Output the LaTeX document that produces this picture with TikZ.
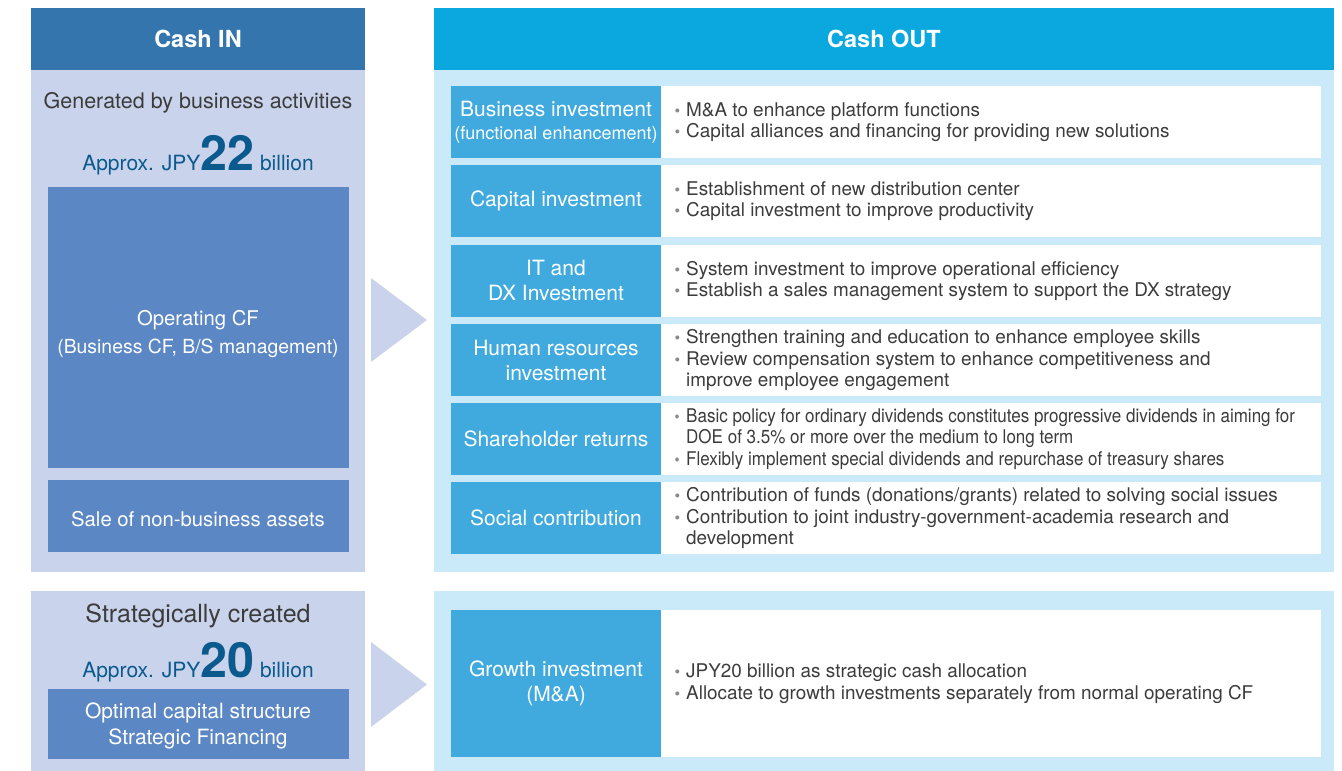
\documentclass[tikz,border=0pt]{standalone}
\usepackage{fontspec}
\setmainfont{TeX Gyre Heros}
\usetikzlibrary{positioning}
\definecolor{inhead}{HTML}{3575AE}
\definecolor{inlight}{HTML}{C9D3EB}
\definecolor{inbox}{HTML}{5C87C5}
\definecolor{bignum}{HTML}{0B5A8E}
\definecolor{outhead}{HTML}{0BA8DF}
\definecolor{outlight}{HTML}{CBEAF9}
\definecolor{outlabel}{HTML}{40AADF}
\definecolor{txtgray}{HTML}{3C3C3C}
\definecolor{bulgray}{HTML}{8A8A8A}
\newcommand\bl{\makebox[13pt][l]{\hspace{1.5pt}\textcolor{bulgray}{\scalebox{0.85}{\textbullet}}}}
\newcommand\ind{\hspace*{13pt}}
\begin{document}
\begin{tikzpicture}[x=1pt,y=-1pt,
  rect/.style={anchor=north west, inner sep=0pt, outer sep=0pt, draw=none},
  headtxt/.style={text=white, font=\fontsize{23.5}{26}\selectfont\bfseries},
  labtxt/.style={text=white, align=center, font=\fontsize{21}{25}\selectfont},
  bodytxt/.style={text=txtgray, align=left, anchor=west, inner sep=0pt, font=\fontsize{18.9}{21.5}\selectfont},
  intxt/.style={text=white, anchor=base, inner sep=0pt, font=\fontsize{20.3}{28}\selectfont},
  amttxt/.style={anchor=base, text=bignum, inner sep=0pt},
  arrowtri/.style={fill=inlight, draw=none}
]
\useasboundingbox (0,0) rectangle (1342,771);
% ---------- Cash IN ----------
\node[rect, fill=inhead, minimum width=334pt, minimum height=62pt] (inh) at (31,8) {};
\node[headtxt] (inhtxt) at (inh.center) {Cash IN};
\node[rect, fill=inlight, minimum width=334pt, minimum height=502pt] (inp) at (31,70) {};
\node[anchor=base, text=txtgray, inner sep=0pt, font=\fontsize{21.5}{24}\selectfont] (gen) at (198,108) {Generated by business activities};
\node[amttxt] (amt1) at (198,170) {{\fontsize{21}{22}\selectfont Approx. JPY}{\fontsize{48.5}{48}\selectfont\bfseries 22}{\fontsize{21}{22}\selectfont\ billion}};
\node[rect, fill=inbox, minimum width=301pt, minimum height=281pt] (opcf) at (48,187) {};
\node[intxt] (opcftxt) at (198,325) {Operating CF};
\node[intxt, font=\fontsize{19.4}{28}\selectfont] (opcftxt2) at (198,353) {(Business CF, B/S management)};
\node[rect, fill=inbox, minimum width=301pt, minimum height=72pt] (sale) at (48,480) {};
\node[intxt] (saletxt) at (198,526) {Sale of non-business assets};
\node[rect, fill=inlight, minimum width=334pt, minimum height=182pt] (inp2) at (31,591) {};
\node[anchor=base, text=txtgray, inner sep=0pt, font=\fontsize{25}{28}\selectfont] (strat) at (198,622) {Strategically created};
\node[amttxt] (amt2) at (198,677) {{\fontsize{21}{22}\selectfont Approx. JPY}{\fontsize{48.5}{48}\selectfont\bfseries 20}{\fontsize{21}{22}\selectfont\ billion}};
\node[rect, fill=inbox, minimum width=301pt, minimum height=70pt] (opt) at (48,689) {};
\node[intxt, font=\fontsize{21}{26}\selectfont] (opttxt) at (198,718) {Optimal capital structure};
\node[intxt, font=\fontsize{21}{26}\selectfont] (opttxt2) at (198,744) {Strategic Financing};
% ---------- arrows ----------
\coordinate (a1t) at (371,278); \coordinate (a1p) at (427,320); \coordinate (a1b) at (371,362);
\fill[arrowtri] (a1t) -- (a1p) -- (a1b) -- cycle;
\coordinate (a2t) at (371,642); \coordinate (a2p) at (427,684.5); \coordinate (a2b) at (371,727);
\fill[arrowtri] (a2t) -- (a2p) -- (a2b) -- cycle;
% ---------- Cash OUT ----------
\node[rect, fill=outhead, minimum width=900pt, minimum height=62pt] (outh) at (434,8) {};
\node[headtxt] (outhtxt) at (outh.center) {Cash OUT};
\node[rect, fill=outlight, minimum width=900pt, minimum height=502pt] (outp) at (434,70) {};
\node[rect, fill=outlight, minimum width=900pt, minimum height=182pt] (outp2) at (434,591) {};
% rows
\foreach \r/\y in {1/86,2/165,3/245,4/324,5/403,6/482}{
  \node[rect, fill=outlabel, minimum width=210pt, minimum height=72pt] (lab\r) at (451,\y) {};
  \node[rect, fill=white, minimum width=660pt, minimum height=72pt] (cont\r) at (661,\y) {};
}
\node[rect, fill=outlabel, minimum width=210pt, minimum height=147pt] (lab7) at (451,610) {};
\node[rect, fill=white, minimum width=660pt, minimum height=147pt] (cont7) at (661,610) {};
% labels
\node[labtxt] (l1) at (lab1.center) {Business investment\\[-2pt]{\fontsize{18}{20}\selectfont(functional enhancement)}};
\node[labtxt] (l2) at (lab2.center) {Capital investment};
\node[labtxt] (l3) at (lab3.center) {IT and\\DX Investment};
\node[labtxt] (l4) at (lab4.center) {Human resources\\investment};
\node[labtxt] (l5) at (lab5.center) {Shareholder returns};
\node[labtxt] (l6) at (lab6.center) {Social contribution};
\node[labtxt] (l7) at (lab7.center) {Growth investment\\(M\&A)};
% contents
\node[bodytxt] (c1) at ([xshift=12pt]cont1.west) {\bl M\&A to enhance platform functions\\\bl Capital alliances and financing for providing new solutions};
\node[bodytxt] (c2) at ([xshift=12pt]cont2.west) {\bl Establishment of new distribution center\\\bl Capital investment to improve productivity};
\node[bodytxt] (c3) at ([xshift=12pt]cont3.west) {\bl System investment to improve operational efficiency\\\bl Establish a sales management system to support the DX strategy};
\node[bodytxt] (c4) at ([xshift=12pt]cont4.west) {\bl Strengthen training and education to enhance employee skills\\\bl Review compensation system to enhance competitiveness and\\\ind improve employee engagement};
\node[bodytxt, font=\fontsize{18.9}{21.5}\selectfont\addfontfeature{FakeStretch=0.9}] (c5) at ([xshift=12pt]cont5.west) {\bl Basic policy for ordinary dividends constitutes progressive dividends in aiming for\\\ind DOE of 3.5\% or more over the medium to long term\\\bl Flexibly implement special dividends and repurchase of treasury shares};
\node[bodytxt] (c6) at ([xshift=12pt]cont6.west) {\bl Contribution of funds (donations/grants) related to solving social issues\\\bl Contribution to joint industry-government-academia research and\\\ind development};
\node[bodytxt] (c7) at ([xshift=12pt]cont7.west) {\bl JPY20 billion as strategic cash allocation\\\bl Allocate to growth investments separately from normal operating CF};
\end{tikzpicture}
\end{document}
